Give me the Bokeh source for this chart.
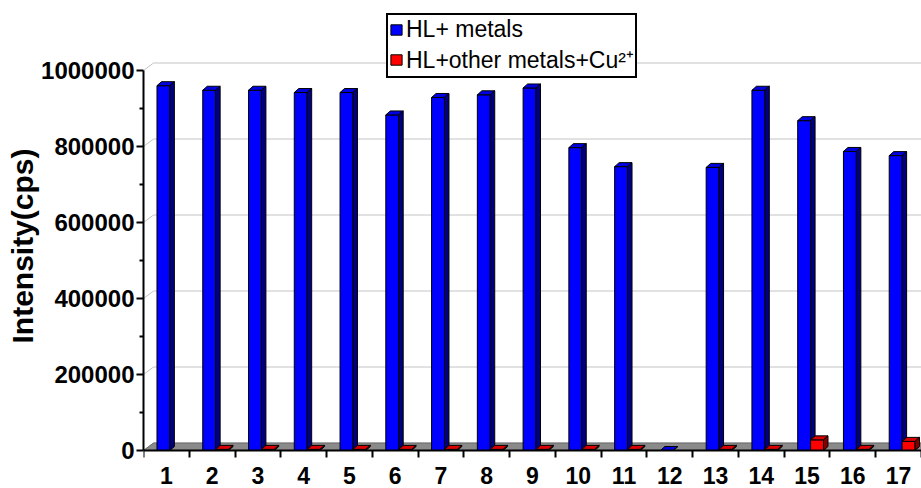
from bokeh.plotting import figure
from bokeh.models import Range1d, FixedTicker, Title, Legend, LegendItem, NumeralTickFormatter
from bokeh.embed import file_html
from bokeh.resources import INLINE

# ---- data -------------------------------------------------------------
categories = list(range(1, 18))
hl_metals = [960000, 948000, 948000, 942000, 942000, 883000, 929000, 936000,
             954000, 797000, 747000, 0, 745000, 948000, 868000, 787000, 776000]
hl_other_cu = [None, 3000, 3000, 3000, 3000, 3000, 3000, 3000, 3000, 3000,
               3000, None, 3000, 3000, 28000, 3000, 24000]
y_ticks = [0, 200000, 400000, 600000, 800000, 1000000]
y_minor = [100000, 300000, 500000, 700000, 900000]
series_names = ["HL+ metals", "HL+other metals+Cu\u00b2\u207a"]

# ---- layout constants ------------------------------------------------------
FONT = "Liberation Sans"
W, H = 921, 488
LEFT = 143
AXIS_Y = 450                 # pixel row of the value-axis zero
frame_w = W - LEFT
uy = 1e6 / 380.0             # data units per pixel (y)
ux = 17.0 / frame_w          # data units per pixel (x)
y_lo = -(H - AXIS_Y) * uy
y_hi = AXIS_Y * uy

# 3-D offsets (pixels -> data units)
wall_dx, wall_dy = 10 * ux, 7.5 * uy
bar_dx, bar_dy = 4.5 * ux, 4 * uy
bar_w = 12.9 * ux
blue_off = -9.4 * ux
red_off = blue_off + bar_w

p = figure(width=W, height=H, output_backend="svg", toolbar_location=None,
           x_range=Range1d(0.5, 17.5), y_range=Range1d(y_lo, y_hi),
           min_border_left=LEFT, min_border_right=0, min_border_top=0,
           min_border_bottom=0)
p.outline_line_color = None
p.xgrid.visible = False
p.ygrid.visible = False
p.background_fill_color = "white"

# back-wall gridlines with the short diagonal run from the axis
gx, gy = [], []
for v in y_ticks:
    gx.append([0.5, 0.5 + wall_dx, 18.0])
    gy.append([v, v + wall_dy, v + wall_dy])
p.multi_line(gx, gy, line_color="#c4c4c4", line_width=1)

# floor
p.patch([0.5, 18.0, 18.0, 0.5 + wall_dx], [0, 0, wall_dy, wall_dy],
        fill_color="#8a8a8a", line_color="#6a6a6a", line_width=1)


def draw_series(values, offset, front, top, side):
    xs_c = [c for c, v in zip(categories, values) if v is not None]
    vs = [v for v in values if v is not None]
    lefts = [c + offset for c in xs_c]
    rights = [l + bar_w for l in lefts]
    r = p.quad(left=lefts, right=rights, bottom=0, top=vs,
               fill_color=front, line_color="black", line_width=1)
    top_x = [[l, rr, rr + bar_dx, l + bar_dx] for l, rr in zip(lefts, rights)]
    top_y = [[v, v, v + bar_dy, v + bar_dy] for v in vs]
    p.patches(top_x, top_y, fill_color=top, line_color="black", line_width=1)
    side_x = [[rr, rr + bar_dx, rr + bar_dx, rr] for rr in rights]
    side_y = [[0, bar_dy, v + bar_dy, v] for v in vs]
    p.patches(side_x, side_y, fill_color=side, line_color="black", line_width=1)
    return r


blue_r = draw_series(hl_metals, blue_off, "#0000ff", "#0000e0", "#000080")
red_r = draw_series(hl_other_cu, red_off, "#ff0000", "#d80000", "#800000")

# ---- axes ----------------------------------------------------------------------
xa = p.xaxis[0]
xa.fixed_location = 0
xa.ticker = FixedTicker(ticks=categories, minor_ticks=[c - 0.5 for c in categories] + [17.5])
xa.major_label_overrides = {c: str(c) for c in categories}
xa.axis_line_width = 2
xa.axis_line_color = "black"
xa.major_tick_out = 0
xa.major_tick_in = 0
xa.minor_tick_out = 7
xa.minor_tick_in = 0
xa.minor_tick_line_width = 2
xa.minor_tick_line_color = "black"
xa.major_label_standoff = 9
xa.major_label_text_font = FONT
xa.major_label_text_font_size = "23px"
xa.major_label_text_font_style = "bold"
xa.major_label_text_color = "black"

ya = p.yaxis[0]
ya.ticker = FixedTicker(ticks=y_ticks, minor_ticks=y_minor)
ya.formatter = NumeralTickFormatter(format="0")
ya.bounds = (0, 1000000)
ya.axis_line_width = 2
ya.axis_line_color = "black"
ya.major_tick_out = 7
ya.major_tick_in = 0
ya.major_tick_line_width = 2
ya.major_tick_line_color = "black"
ya.minor_tick_out = 4
ya.minor_tick_in = 0
ya.minor_tick_line_width = 2
ya.minor_tick_line_color = "black"
ya.major_label_standoff = 2
ya.major_label_text_font = FONT
ya.major_label_text_font_size = "24px"
ya.major_label_text_font_style = "bold"
ya.major_label_text_color = "black"

p.add_layout(Title(text="Intensity(cps)", text_font=FONT, text_font_size="30px",
                   text_font_style="bold", text_color="black",
                   align="left", offset=107 + (H - AXIS_Y), standoff=0), "left")

legend = Legend(items=[LegendItem(label=series_names[0], renderers=[blue_r]),
                       LegendItem(label=series_names[1], renderers=[red_r])],
                location=(386 - LEFT, H - 78), orientation="vertical",
                label_text_font=FONT, label_text_font_size="23px",
                label_text_color="black", glyph_width=14, glyph_height=13,
                label_standoff=3, spacing=-4, padding=1, margin=0,
                border_line_color="black", border_line_width=2,
                border_line_alpha=1.0,
                background_fill_color="white", background_fill_alpha=1.0)
p.add_layout(legend)

open("out.html", "w").write(file_html(p, INLINE))
